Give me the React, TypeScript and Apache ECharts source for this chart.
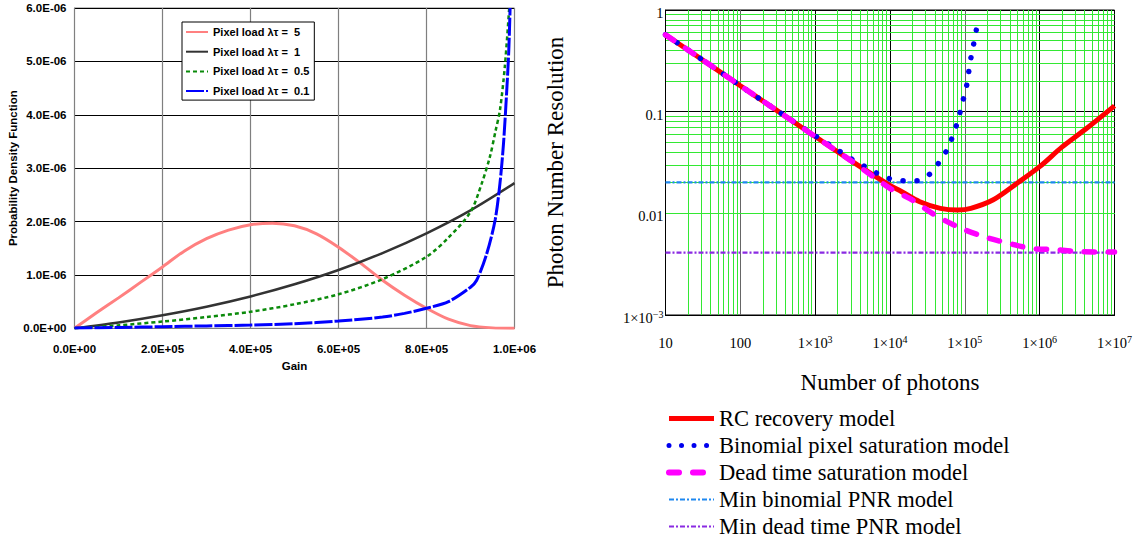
import React, { useEffect, useRef } from 'react';
import * as echarts from 'echarts';

// ---------- Left chart: PDF of gain ----------
const pinkGain = [0, 0.5e5, 1e5, 1.5e5, 2e5, 2.5e5, 3e5, 3.5e5, 4e5, 4.5e5, 5e5, 5.5e5, 6e5, 6.5e5, 7e5, 7.5e5, 8e5, 8.5e5, 9e5, 9.5e5, 1e6];
const pinkPdf = [0, 0.29e-6, 0.57e-6, 0.86e-6, 1.15e-6, 1.45e-6, 1.68e-6, 1.84e-6, 1.94e-6, 1.97e-6, 1.92e-6, 1.77e-6, 1.52e-6, 1.22e-6, 0.9e-6, 0.62e-6, 0.375e-6, 0.17e-6, 0.05e-6, 0.008e-6, 0];

const blackGain = [0, 1e5, 2e5, 3e5, 4e5, 5e5, 6e5, 7e5, 8e5, 9e5, 1e6];
const blackPdf = [0, 0.11e-6, 0.245e-6, 0.405e-6, 0.597e-6, 0.825e-6, 1.093e-6, 1.41e-6, 1.78e-6, 2.21e-6, 2.72e-6];

const greenGain = [0, 1e5, 2e5, 3e5, 4e5, 5e5, 6e5, 7e5, 8e5, 8.5e5, 9e5, 9.25e5, 9.44e5, 9.57e5, 9.67e5, 9.78e5, 9.88e5];
const greenPdf = [0, 0.055e-6, 0.126e-6, 0.21e-6, 0.31e-6, 0.45e-6, 0.637e-6, 0.92e-6, 1.34e-6, 1.7e-6, 2.18e-6, 2.7e-6, 3.21e-6, 3.7e-6, 4.09e-6, 4.9e-6, 6.0e-6];

const blueGain = [0, 1e5, 2e5, 3e5, 4e5, 5e5, 6e5, 7e5, 7.5e5, 8e5, 8.5e5, 9e5, 9.14e5, 9.37e5, 9.56e5, 9.67e5, 9.75e5, 9.82e5, 9.87e5, 9.9e5];
const bluePdf = [0.005e-6, 0.015e-6, 0.03e-6, 0.045e-6, 0.06e-6, 0.085e-6, 0.137e-6, 0.21e-6, 0.28e-6, 0.375e-6, 0.5e-6, 0.77e-6, 0.9e-6, 1.4e-6, 2.03e-6, 2.72e-6, 3.46e-6, 4.4e-6, 5.2e-6, 6.0e-6];

const leftNames = ['Pixel load λτ =  5', 'Pixel load λτ =  1', 'Pixel load λτ =  0.5', 'Pixel load λτ =  0.1'];

// ---------- Right chart: PNR vs photons ----------
const redN = [10, 30, 100, 300, 1e3, 3e3, 1e4, 1.4e4, 2.5e4, 4.7e4, 8e4, 1.2e5, 2.4e5, 5e5, 1e6, 2e6, 4.3e6, 1e7];
const redPnr = [0.57, 0.33, 0.18, 0.104, 0.057, 0.033, 0.0188, 0.0165, 0.013, 0.0112, 0.0108, 0.0112, 0.0136, 0.0198, 0.0288, 0.045, 0.069, 0.114];

const binN = [10, 30, 100, 300, 1e3, 2e3, 3e3, 4.5e3, 6.7e3, 1e4, 1.5e4, 2.3e4, 3.5e4, 4.6e4, 6e4, 7e4, 8.2e4, 9e4, 1.02e5, 1.1e5, 1.17e5, 1.27e5, 1.38e5, 1.5e5];
const binPnr = [0.57, 0.33, 0.18, 0.104, 0.058, 0.042, 0.0345, 0.0292, 0.0248, 0.0219, 0.0209, 0.0209, 0.0248, 0.0323, 0.0443, 0.06, 0.084, 0.114, 0.157, 0.216, 0.3, 0.41, 0.56, 0.8];

const deadN = [10, 30, 100, 300, 1e3, 3e3, 1e4, 2e4, 4e4, 9e4, 1.8e5, 3.7e5, 8e5, 1.6e6, 3.5e6, 7e6, 1e7];
const deadPnr = [0.57, 0.33, 0.18, 0.104, 0.057, 0.033, 0.0176, 0.0135, 0.0096, 0.0071, 0.0059, 0.0051, 0.0045, 0.0044, 0.0042, 0.00417, 0.00416];

const minBinomialPnr = 0.0202;
const minDeadPnr = 0.0041;
const photonRange = [10, 1e7];

const rightNames = ['RC recovery model', 'Binomial pixel saturation model', 'Dead time saturation model', 'Min binomial PNR model', 'Min dead time PNR model'];

// grid structure: minor lines at 2..9 x each decade
const xDecades = [10, 100, 1e3, 1e4, 1e5, 1e6];
const yDecades = [0.001, 0.01, 0.1];
const minorMults = [2, 3, 4, 5, 6, 7, 8, 9];

const SANS = 'Liberation Sans';
const SERIF = 'Liberation Serif';

const zip = (xs: number[], ys: number[]) => xs.map((x, i) => [x, ys[i]]);

const sci = (v: number) => {
  const s = v.toExponential(1);
  const [m, e] = s.split('e');
  const n = parseInt(e, 10);
  return m + 'E' + (n < 0 ? '-' : '+') + String(Math.abs(n)).padStart(2, '0');
};

export default function App() {
  const ref = useRef<HTMLDivElement>(null);
  useEffect(() => {
    document.body.style.margin = '0';
    const chart = echarts.init(ref.current!, undefined, { renderer: 'svg' });

    const minorX: any[] = [];
    xDecades.forEach((d) => minorMults.forEach((k) => minorX.push({ xAxis: d * k })));
    const minorY: any[] = [];
    yDecades.forEach((d) => minorMults.forEach((k) => minorY.push({ yAxis: d * k })));

    const leftLabel = { fontFamily: SANS, fontWeight: 'bold' as const, fontSize: 11.5, color: '#000' };
    const leftLegendText = { fontFamily: SANS, fontWeight: 'bold' as const, fontSize: 11, color: '#000', lineHeight: 12 };
    const rightLegendText = { fontFamily: SERIF, fontSize: 22.5, color: '#000', lineHeight: 22, fontWeight: 'normal' as const };
    const rightName = { fontFamily: SERIF, fontSize: 23, color: '#000' };
    const rich = {
      b: { fontFamily: SERIF, fontSize: 14.5, color: '#000', lineHeight: 18 },
      s: { fontFamily: SERIF, fontSize: 10, color: '#000', verticalAlign: 'top' as const, lineHeight: 10 },
    };
    const hiddenSymbol = { color: 'rgba(0,0,0,0)', borderColor: 'rgba(0,0,0,0)', borderWidth: 0 };

    const option: any = {
      animation: false,
      backgroundColor: '#fff',
      textStyle: { fontFamily: SERIF },
      grid: [
        { left: 74.5, top: 8, width: 440, height: 320.3, show: true, borderColor: '#808080', borderWidth: 1 },
        { left: 665.5, top: 10, width: 449, height: 305, show: true, borderColor: '#000', borderWidth: 1 },
      ],
      legend: [
        {
          data: leftNames.map((name) => ({ name, textStyle: leftLegendText })),
          orient: 'vertical',
          left: 182,
          top: 22,
          padding: [4, 5, 3, 3],
          itemWidth: 22,
          itemHeight: 12,
          itemGap: 7.7,
          borderColor: '#000',
          borderWidth: 1,
          backgroundColor: '#fff',
          itemStyle: hiddenSymbol,
          textStyle: leftLegendText,
          selectedMode: false,
        },
        {
          data: [
            { name: rightNames[0], lineStyle: { width: 5, color: '#ff0000' }, textStyle: rightLegendText },
            { name: rightNames[1], lineStyle: { type: [0.01, 12.5], cap: 'round', width: 5 }, textStyle: rightLegendText },
            { name: rightNames[2], lineStyle: { type: [10, 14], cap: 'round', width: 6 }, textStyle: rightLegendText },
            { name: rightNames[3], textStyle: rightLegendText },
            { name: rightNames[4], textStyle: rightLegendText },
          ],
          orient: 'vertical',
          left: 666,
          top: 407,
          padding: 0,
          itemWidth: 45,
          itemHeight: 14,
          itemGap: 4,
          itemStyle: hiddenSymbol,
          textStyle: rightLegendText,
          selectedMode: false,
        },
      ],
      xAxis: [
        {
          gridIndex: 0,
          type: 'value',
          min: 0,
          max: 1e6,
          interval: 2e5,
          name: 'Gain',
          nameLocation: 'middle',
          nameGap: 23,
          nameTextStyle: leftLabel,
          axisLine: { show: true, lineStyle: { color: '#808080' } },
          axisTick: { show: false },
          axisLabel: { ...leftLabel, formatter: sci, margin: 15 },
          splitLine: { show: true, lineStyle: { color: '#7f7f7f', width: 1.2 } },
        },
        {
          gridIndex: 1,
          type: 'log',
          logBase: 10,
          min: 10,
          max: 1e7,
          name: 'Number of photons',
          nameLocation: 'middle',
          nameGap: 56,
          nameTextStyle: rightName,
          axisLine: { show: true, lineStyle: { color: '#000' } },
          axisTick: { show: false },
          axisLabel: {
            margin: 19,
            formatter: (v: number) => {
              const e = Math.round(Math.log10(v));
              if (e === 1) return '{b|10}';
              if (e === 2) return '{b|100}';
              return '{b|1×10}{s|' + e + '}';
            },
            rich,
          },
          splitLine: { show: true, lineStyle: { color: ['#000', '#666', '#000', '#000', '#666', '#000', '#000'], width: 1 } },
        },
      ],
      yAxis: [
        {
          gridIndex: 0,
          type: 'value',
          min: 0,
          max: 6e-6,
          interval: 1e-6,
          name: 'Probability Density Function',
          nameLocation: 'middle',
          nameGap: 54,
          nameTextStyle: leftLabel,
          axisLine: { show: true, lineStyle: { color: '#808080' } },
          axisTick: { show: false },
          axisLabel: { ...leftLabel, formatter: sci, margin: 8 },
          splitLine: { show: true, lineStyle: { color: '#000', width: 1 } },
        },
        {
          gridIndex: 1,
          type: 'log',
          logBase: 10,
          min: 0.001,
          max: 1,
          name: 'Photon Number Resolution',
          nameLocation: 'middle',
          nameGap: 99,
          nameTextStyle: rightName,
          axisLine: { show: true, lineStyle: { color: '#000' } },
          axisTick: { show: false },
          axisLabel: {
            margin: 2,
            padding: [6, 0, 0, 0],
            formatter: (v: number) => {
              const e = Math.round(Math.log10(v));
              if (e === 0) return '{b|1}';
              if (e === -1) return '{b|0.1}';
              if (e === -2) return '{b|0.01}';
              return '{b|1×10}{s|−' + Math.abs(e) + '}';
            },
            rich,
          },
          splitLine: { show: true, lineStyle: { color: '#000', width: 1 } },
        },
      ],
      series: [
        // left
        {
          name: leftNames[0], type: 'line', xAxisIndex: 0, yAxisIndex: 0, data: zip(pinkGain, pinkPdf),
          smooth: 0.3, symbol: 'none', lineStyle: { color: '#ff8080', width: 3 }, itemStyle: { color: '#ff8080' },
        },
        {
          name: leftNames[1], type: 'line', xAxisIndex: 0, yAxisIndex: 0, data: zip(blackGain, blackPdf),
          smooth: 0.3, symbol: 'none', lineStyle: { color: '#333333', width: 2.5 }, itemStyle: { color: '#333333' },
        },
        {
          name: leftNames[2], type: 'line', xAxisIndex: 0, yAxisIndex: 0, data: zip(greenGain, greenPdf),
          smooth: 0.3, symbol: 'none', lineStyle: { color: '#0a8a0a', width: 2.5, type: [4, 3] }, itemStyle: { color: '#0a8a0a' },
        },
        {
          name: leftNames[3], type: 'line', xAxisIndex: 0, yAxisIndex: 0, data: zip(blueGain, bluePdf),
          smooth: 0.3, symbol: 'none', lineStyle: { color: '#0000ff', width: 3, type: [18, 2] }, itemStyle: { color: '#0000ff' },
        },
        // right: minor green grid lines
        {
          name: 'minor', type: 'line', xAxisIndex: 1, yAxisIndex: 1, data: [], z: 0, silent: true,
          markLine: {
            silent: true, symbol: ['none', 'none'], label: { show: false }, animation: false, z: 0,
            lineStyle: { color: '#33e833', width: 1, type: 'solid' },
            data: [...minorX, ...minorY],
          },
        },
        {
          name: rightNames[0], type: 'line', xAxisIndex: 1, yAxisIndex: 1, data: zip(redN, redPnr),
          smooth: 0.3, symbol: 'none', lineStyle: { color: '#ff0000', width: 5 }, itemStyle: { color: '#ff0000' }, z: 5,
        },
        {
          name: rightNames[1], type: 'line', xAxisIndex: 1, yAxisIndex: 1, data: zip(binN, binPnr),
          smooth: 0.3, symbol: 'none', lineStyle: { color: '#0000ee', width: 5.5, type: [0.01, 14], cap: 'round' }, itemStyle: { color: '#0000ee' }, z: 5,
        },
        {
          name: rightNames[2], type: 'line', xAxisIndex: 1, yAxisIndex: 1, data: zip(deadN, deadPnr),
          smooth: 0.3, symbol: 'none', lineStyle: { color: '#ff00ff', width: 5.5, type: [10, 14], cap: 'round' }, itemStyle: { color: '#ff00ff' }, z: 5,
        },
        {
          name: rightNames[3], type: 'line', xAxisIndex: 1, yAxisIndex: 1, data: photonRange.map((n) => [n, minBinomialPnr]),
          symbol: 'none', lineStyle: { color: '#1e88f0', width: 2.2, type: [5, 2, 2, 2] }, itemStyle: { color: '#1e88f0' }, z: 4,
        },
        {
          name: rightNames[4], type: 'line', xAxisIndex: 1, yAxisIndex: 1, data: photonRange.map((n) => [n, minDeadPnr]),
          symbol: 'none', lineStyle: { color: '#8a2be2', width: 2.2, type: [5, 2, 2, 2] }, itemStyle: { color: '#8a2be2' }, z: 4,
        },
      ],
    };
    chart.setOption(option);
    return () => chart.dispose();
  }, []);
  return <div ref={ref} style={{ position: 'absolute', left: 0, top: 0, width: 1143, height: 542, background: '#fff' }} />;
}
